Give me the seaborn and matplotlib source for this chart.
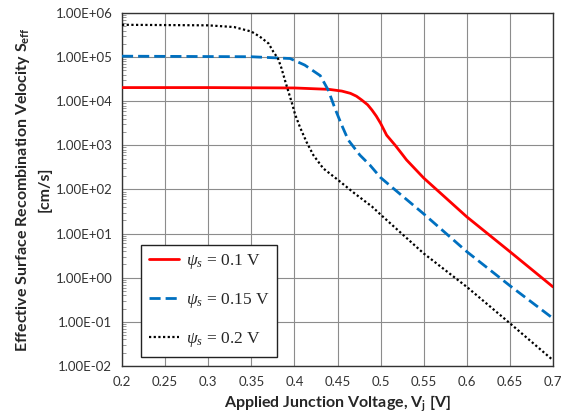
import matplotlib
matplotlib.use("Agg")
import matplotlib.pyplot as plt
import matplotlib.ticker as mticker
import numpy as np
import pandas as pd
import seaborn as sns

# ---- data ----
v_red = [0.20, 0.30, 0.40, 0.44, 0.455, 0.465, 0.472, 0.478, 0.485, 0.49, 0.495, 0.50, 0.507,
         0.517, 0.525, 0.53, 0.55, 0.60, 0.65, 0.70]
s_red = [2.04e4, 2.04e4, 2.0e4, 1.86e4, 1.7e4, 1.51e4, 1.3e4, 1.07e4, 8.3e3, 6.3e3, 4.6e3, 3.16e3, 1.7e3,
         1.0e3, 6.3e2, 4.7e2, 1.82e2, 24, 3.9, 0.62]

v_blue = [0.20, 0.35, 0.395, 0.412, 0.43, 0.4393, 0.447, 0.4548, 0.4625, 0.476, 0.4877, 0.50, 0.515,
          0.55, 0.60, 0.65, 0.70]
s_blue = [1.05e5, 1.02e5, 9.3e4, 6.6e4, 3.8e4, 1.78e4, 6.9e3, 2.9e3, 1.32e3, 6.0e2, 3.55e2, 1.86e2, 1.05e2,
          28, 3.9, 0.66, 0.12]

v_black = [0.20, 0.30, 0.33, 0.35, 0.36, 0.37, 0.3756, 0.381, 0.385, 0.389, 0.393, 0.397, 0.4007,
           0.4065, 0.414, 0.422, 0.4335, 0.451, 0.470, 0.49, 0.50, 0.55, 0.60, 0.65, 0.70]
s_black = [5.4e5, 5.25e5, 4.8e5, 3.8e5, 2.9e5, 2.04e5, 1.32e5, 9.3e4, 5.6e4, 3.0e4, 1.66e4, 9.3e3, 5.1e3,
           2.57e3, 1.2e3, 6.0e2, 3.0e2, 1.62e2, 81, 41, 27, 3.55, 0.62, 0.093, 0.0135]

series_labels = [r"$\psi_s$ = 0.1 V", r"$\psi_s$ = 0.15 V", r"$\psi_s$ = 0.2 V"]
x_ticks = [0.2, 0.25, 0.3, 0.35, 0.4, 0.45, 0.5, 0.55, 0.6, 0.65, 0.7]
x_tick_labels = ["0.2", "0.25", "0.3", "0.35", "0.4", "0.45", "0.5", "0.55", "0.6", "0.65", "0.7"]
y_ticks = [1e-2, 1e-1, 1e0, 1e1, 1e2, 1e3, 1e4, 1e5, 1e6]
y_tick_labels = ["1.00E-02", "1.00E-01", "1.00E+00", "1.00E+01", "1.00E+02",
                 "1.00E+03", "1.00E+04", "1.00E+05", "1.00E+06"]
x_label = r"Applied Junction Voltage, V$_\mathregular{j}$ [V]"
y_label = "Effective Surface Recombination Velocity S$_\\mathregular{eff}$\n[cm/s]"

sns.set_style("white")
plt.rcParams["font.family"] = ["Lato", "DejaVu Sans"]
plt.rcParams["mathtext.fontset"] = "custom"
plt.rcParams["mathtext.it"] = "Liberation Serif:italic"
plt.rcParams["mathtext.rm"] = "Liberation Serif"

fig = plt.figure(figsize=(5.76, 4.19), dpi=100)
ax = fig.add_axes([0.2118, 0.1265, 0.7483, 0.8425])

styles = [
    dict(color="#ff0000", lw=2.0, ls="-"),
    dict(color="#0070c0", lw=2.0, ls=(0, (4, 1.8))),
    dict(color="#000000", lw=1.6, ls=(0, (1, 1.1))),
]
data = [(v_red, s_red), (v_blue, s_blue), (v_black, s_black)]
for (vx, sy), lab, st in zip(data, series_labels, styles):
    df = pd.DataFrame({"V": vx, "S": sy})
    sns.lineplot(data=df, x="V", y="S", ax=ax, label=lab, color=st["color"],
                 linewidth=st["lw"], linestyle=st["ls"], zorder=3)

ax.set_yscale("log")
ax.set_xlim(0.2, 0.7)
ax.set_ylim(1e-2, 1e6)
ax.set_xticks(x_ticks)
ax.set_xticklabels(x_tick_labels, fontsize=9.5, color="#333333")
ax.set_yticks(y_ticks)
ax.set_yticklabels(y_tick_labels, fontsize=9.5, color="#333333")
ax.yaxis.set_minor_locator(mticker.LogLocator(base=10, subs=np.arange(2, 10), numticks=20))
ax.yaxis.set_minor_formatter(mticker.NullFormatter())
ax.tick_params(axis="both", which="major", direction="out", length=4, width=0.8, color="#555555", pad=3)
ax.tick_params(axis="y", which="minor", direction="in", length=3, width=0.6, color="#888888", left=True)

ax.grid(True, which="major", axis="both", color="#8c8c8c", linewidth=0.8, zorder=0)
for sp in ax.spines.values():
    sp.set_color("#333333")
    sp.set_linewidth(1.0)

ax.set_xlabel(x_label, fontsize=11.5, fontweight="bold", labelpad=4)
ax.set_ylabel(y_label, fontsize=11.5, fontweight="bold", labelpad=3, linespacing=1.45)

leg = ax.legend(loc="lower left", bbox_to_anchor=(0.045, 0.025), borderaxespad=0, frameon=True,
                fancybox=False, edgecolor="#222222", framealpha=1, handlelength=1.7,
                borderpad=0.45, labelspacing=1.15, handletextpad=0.4,
                prop={"family": "Liberation Serif", "size": 12.5})
leg.get_frame().set_linewidth(1.0)

fig.savefig("out.png", dpi=100)
